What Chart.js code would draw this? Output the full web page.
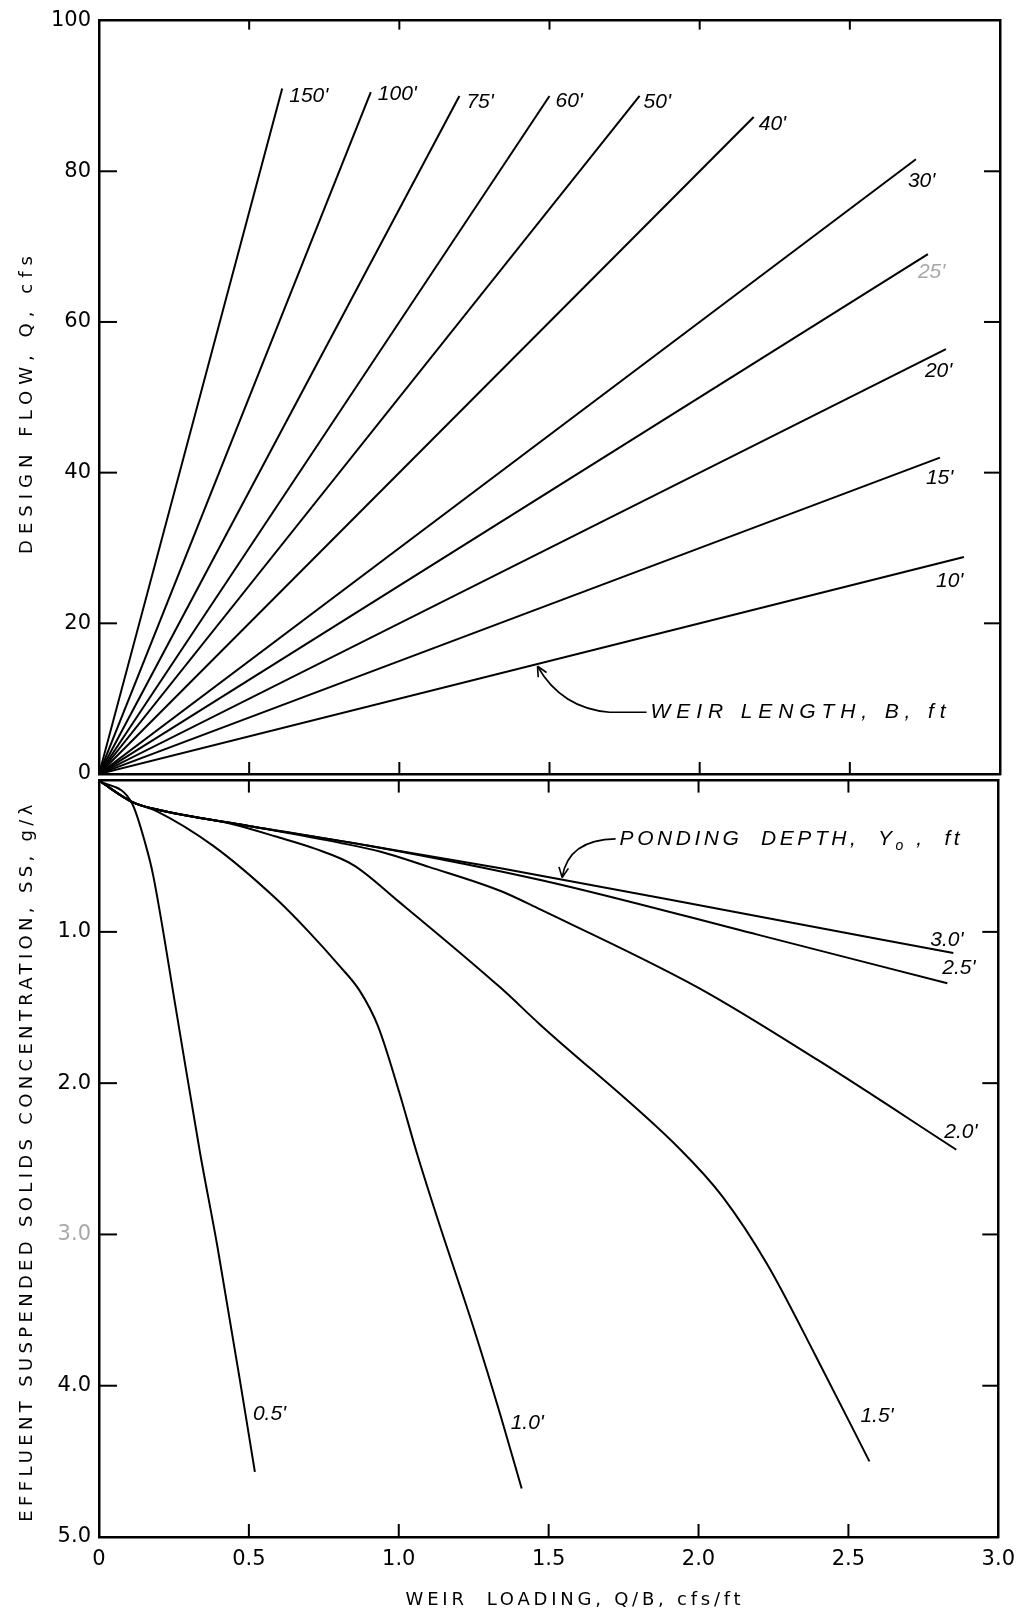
<!DOCTYPE html>
<html>
<head>
<meta charset="utf-8">
<title>Weir loading vs design flow and effluent suspended solids</title>
<script src="https://cdn.jsdelivr.net/npm/chart.js@4.4.1/dist/chart.umd.min.js"></script>
<style>
  html, body { margin:0; padding:0; background:#fff; }
  #wrap { position:relative; width:1025px; height:1619px; overflow:hidden; background:#fff; }
  canvas { position:absolute; left:0; }
  #cTop { top:0; }
  #cBot { top:760px; }
</style>
</head>
<body>
<div id="wrap">
  <canvas id="cTop" width="1025" height="800"></canvas>
  <canvas id="cBot" width="1025" height="859"></canvas>
</div>
<script>
// ================= DATA =================
const xTickValues    = [0, 0.5, 1.0, 1.5, 2.0, 2.5, 3.0];   // weir loading Q/B, cfs/ft
const flowTickValues = [0, 20, 40, 60, 80, 100];             // design flow Q, cfs
const ssTickValues   = [0, 1, 2, 3, 4, 5];                   // effluent SS, g/l

// Upper panel: weir length lines (start at origin, end)
const weirLengthLabels = ["150'", "100'", "75'", "60'", "50'", "40'", "30'", "25'", "20'", "15'", "10'"];
const weirStartLoading = [0, 0, 0, 0, 0, 0, 0, 0, 0, 0, 0];
const weirStartFlow    = [0, 0, 0, 0, 0, 0, 0, 0, 0, 0, 0];
const weirEndLoading   = [0.61, 0.905, 1.20, 1.50, 1.80, 2.18, 2.72, 2.76, 2.82, 2.80, 2.88];
const weirEndFlow      = [91.0, 90.5, 90.0, 90.0, 90.0, 87.2, 81.6, 69.0, 56.4, 42.0, 28.8];

// Lower panel: ponding depth curves
const depthLabels = ["0.5'", "1.0'", "1.5'", "2.0'", "2.5'", "3.0'"];
const loading05 = [0, 0.11, 0.155, 0.18, 0.26, 0.337, 0.395, 0.483, 0.52];
const ss05      = [0, 0.15, 0.42, 0.62, 1.55, 2.46, 3.08, 4.12, 4.57];
const loading10 = [0, 0.11, 0.19, 0.38, 0.59, 0.70, 0.80, 0.87, 0.93, 1.00, 1.06, 1.13, 1.25, 1.34, 1.41];
const ss10      = [0, 0.14, 0.20, 0.43, 0.78, 1.00, 1.22, 1.39, 1.62, 2.05, 2.46, 2.90, 3.62, 4.20, 4.68];
const loading15 = [0, 0.11, 0.19, 0.45, 0.59, 0.72, 0.85, 1.00, 1.34, 1.47, 1.94, 2.08, 2.23, 2.39, 2.57];
const ss15      = [0, 0.14, 0.19, 0.29, 0.37, 0.45, 0.56, 0.80, 1.37, 1.61, 2.44, 2.75, 3.20, 3.80, 4.50];
const loading20 = [0, 0.11, 0.19, 0.50, 0.80, 0.94, 1.10, 1.34, 1.47, 2.00, 2.40, 2.86];
const ss20      = [0, 0.14, 0.19, 0.30, 0.41, 0.47, 0.57, 0.73, 0.85, 1.37, 1.85, 2.44];
const loading25 = [0, 0.11, 0.19, 0.50, 0.90, 1.48, 2.20, 2.83];
const ss25      = [0, 0.14, 0.19, 0.30, 0.43, 0.66, 1.02, 1.34];
const loading30 = [0, 0.11, 0.19, 0.50, 0.90, 1.34, 2.10, 2.85];
const ss30      = [0, 0.14, 0.19, 0.30, 0.43, 0.58, 0.86, 1.14];
const depthLoadings = [loading05, loading10, loading15, loading20, loading25, loading30];
const depthSS       = [ss05, ss10, ss15, ss20, ss25, ss30];

// ================= STYLE / ANNOTATION LAYOUT =================
const INK = '#000';
const FAINT = '#a8a8a8';
const TICK_FONT = { family: '"DejaVu Sans", "Liberation Sans", sans-serif', size: 21 };
const LABEL_FONT = 'italic 21px "Liberation Sans", Arial, sans-serif';
const TITLE_FONT = '18px "DejaVu Sans", "Liberation Sans", sans-serif';
// pixel offsets of each curve label from the curve's end point (text left / middle)
const weirLabelOffset = [[7,8],[7,2],[7,6],[6,5],[4,6],[5,7],[-8,22],[-10,18],[-21,22],[-14,21],[-28,24]];
const depthLabelOffset = [[-2,-58],[-11,-65],[-9,-45],[-12,-18],[-5,-15],[-23,-13]];
// leader notes (data units)
const weirNote = { text: 'WEIR LENGTH, B, ft', at: [1.83, 8.2], bend: [1.70, 8.2], ctrl: [1.54, 8.7], tip: [1.46, 14.3], width: 295 };
const pondNote = { at: [1.73, 0.385], ctrl: [1.565, 0.39], tip: [1.545, 0.64], width: 340 };

function fmtX(v){ return v === 0 ? '0' : v.toFixed(1); }
function seg(ctx, x1, y1, x2, y2){ ctx.beginPath(); ctx.moveTo(x1, y1); ctx.lineTo(x2, y2); ctx.stroke(); }
function spaced(ctx, text, x, y, target){
  ctx.letterSpacing = '0px';
  const w = ctx.measureText(text).width;
  const n = [...text].length;
  const sp = target ? (target - w) / Math.max(n - 1, 1) : 0;
  ctx.letterSpacing = sp + 'px';
  ctx.fillText(text, x, y);
  ctx.letterSpacing = '0px';
}
function arrowHead(ctx, tip, from){
  const ang = Math.atan2(tip[1] - from[1], tip[0] - from[0]);
  const L = 11;
  seg(ctx, tip[0], tip[1], tip[0] - L*Math.cos(ang - 0.45), tip[1] - L*Math.sin(ang - 0.45));
  seg(ctx, tip[0], tip[1], tip[0] - L*Math.cos(ang + 0.45), tip[1] - L*Math.sin(ang + 0.45));
}
function innerTicks(ctx, a, xs, ys, yVals, topLen, botLen){
  ctx.strokeStyle = INK; ctx.lineWidth = 2;
  yVals.slice(1, -1).forEach(v => {
    const py = ys.getPixelForValue(v);
    seg(ctx, a.left, py, a.left + 18, py);
    seg(ctx, a.right - 16, py, a.right, py);
  });
  xTickValues.slice(1, -1).forEach(v => {
    const px = xs.getPixelForValue(v);
    seg(ctx, px, a.top, px, a.top + topLen);
    seg(ctx, px, a.bottom - botLen, px, a.bottom);
  });
}

// ================= TOP CHART =================
const topDecor = {
  id: 'topDecor',
  afterDraw(chart){
    const {ctx, chartArea: a, scales} = chart;
    const xs = scales.x, ys = scales.y;
    ctx.save();
    innerTicks(ctx, a, xs, ys, flowTickValues, 9, 12);
    // curve labels
    ctx.font = LABEL_FONT; ctx.textAlign = 'left'; ctx.textBaseline = 'middle';
    weirLengthLabels.forEach((lab, i) => {
      const px = xs.getPixelForValue(weirEndLoading[i]);
      const py = ys.getPixelForValue(weirEndFlow[i]);
      ctx.fillStyle = (lab === "25'") ? FAINT : INK;
      ctx.fillText(lab, px + weirLabelOffset[i][0], py + weirLabelOffset[i][1]);
    });
    // weir length leader
    const P = p => [xs.getPixelForValue(p[0]), ys.getPixelForValue(p[1])];
    const s = P(weirNote.at), b = P(weirNote.bend), c = P(weirNote.ctrl), t = P(weirNote.tip);
    ctx.strokeStyle = INK; ctx.lineWidth = 1.6;
    ctx.beginPath(); ctx.moveTo(s[0] - 2, s[1]); ctx.lineTo(b[0], b[1]);
    ctx.quadraticCurveTo(c[0], c[1], t[0], t[1]); ctx.stroke();
    arrowHead(ctx, t, c);
    ctx.fillStyle = INK;
    ctx.font = 'italic 21px "Liberation Sans", Arial, sans-serif';
    spaced(ctx, weirNote.text, s[0] + 2, s[1], weirNote.width);
    // y title
    ctx.font = TITLE_FONT; ctx.textAlign = 'center'; ctx.textBaseline = 'middle';
    ctx.translate(27, 402); ctx.rotate(-Math.PI/2);
    spaced(ctx, 'DESIGN FLOW, Q, cfs', 0, 0, 298);
    ctx.restore();
  }
};

new Chart(document.getElementById('cTop'), {
  type: 'scatter',
  data: {
    datasets: weirLengthLabels.map((lab, i) => ({
      label: 'B = ' + lab,
      data: [{x: weirStartLoading[i], y: weirStartFlow[i]}, {x: weirEndLoading[i], y: weirEndFlow[i]}],
      showLine: true, borderColor: INK, borderWidth: 2, pointRadius: 0, fill: false
    }))
  },
  options: {
    responsive: false, animation: false, devicePixelRatio: 1,
    layout: { padding: { left: 0, right: 25, top: 19, bottom: 26 } },
    plugins: { legend: { display: false }, tooltip: { enabled: false } },
    scales: {
      x: { type: 'linear', position: 'bottom', min: 0, max: 3,
           ticks: { display: false }, grid: { display: false, drawTicks: false },
           border: { display: true, color: INK, width: 2.5 }, afterFit(s){ s.height = 0; } },
      xTop: { type: 'linear', position: 'top', min: 0, max: 3,
           ticks: { display: false }, grid: { display: false, drawTicks: false },
           border: { display: true, color: INK, width: 2.5 }, afterFit(s){ s.height = 0; } },
      y: { type: 'linear', position: 'left', min: 0, max: 100,
           afterBuildTicks(s){ s.ticks = flowTickValues.map(v => ({ value: v })); },
           ticks: { color: INK, font: TICK_FONT, padding: 8 },
           grid: { display: false, drawTicks: false },
           border: { display: true, color: INK, width: 2.5 }, afterFit(s){ s.width = 99; } },
      yRight: { type: 'linear', position: 'right', min: 0, max: 100,
           ticks: { display: false }, grid: { display: false, drawTicks: false },
           border: { display: true, color: INK, width: 2.5 }, afterFit(s){ s.width = 0; } }
    }
  },
  plugins: [topDecor]
});

// ================= BOTTOM CHART =================
const botDecor = {
  id: 'botDecor',
  afterDraw(chart){
    const {ctx, chartArea: a, scales} = chart;
    const xs = scales.x, ys = scales.y;
    ctx.save();
    innerTicks(ctx, a, xs, ys, ssTickValues, 12, 13);
    // curve labels
    ctx.font = LABEL_FONT; ctx.textAlign = 'left'; ctx.textBaseline = 'middle'; ctx.fillStyle = INK;
    depthLabels.forEach((lab, i) => {
      const xsArr = depthLoadings[i], yArr = depthSS[i];
      const px = xs.getPixelForValue(xsArr[xsArr.length - 1]);
      const py = ys.getPixelForValue(yArr[yArr.length - 1]);
      ctx.fillText(lab, px + depthLabelOffset[i][0], py + depthLabelOffset[i][1]);
    });
    // ponding depth leader
    const P = p => [xs.getPixelForValue(p[0]), ys.getPixelForValue(p[1])];
    const s = P(pondNote.at), c = P(pondNote.ctrl), t = P(pondNote.tip);
    ctx.strokeStyle = INK; ctx.lineWidth = 1.6;
    ctx.beginPath(); ctx.moveTo(s[0] - 2, s[1]); ctx.quadraticCurveTo(c[0], c[1], t[0], t[1]); ctx.stroke();
    arrowHead(ctx, t, c);
    // ponding text with subscript
    const parts = [
      { t: 'PONDING  DEPTH,  Y', f: 'italic 21px "Liberation Sans", Arial, sans-serif', dy: 0 },
      { t: 'o', f: 'italic 14px "Liberation Sans", Arial, sans-serif', dy: 7 },
      { t: ' ,  ft', f: 'italic 21px "Liberation Sans", Arial, sans-serif', dy: 0 }
    ];
    let nat = 0, nChars = 0;
    parts.forEach(p => { ctx.font = p.f; ctx.letterSpacing = '0px'; p.w = ctx.measureText(p.t).width; nat += p.w; nChars += [...p.t].length; });
    const sp = (pondNote.width - nat) / (nChars - 1);
    let cx = s[0] + 2;
    parts.forEach(p => {
      ctx.font = p.f; ctx.letterSpacing = sp + 'px';
      ctx.fillText(p.t, cx, s[1] + p.dy);
      cx += p.w + sp * [...p.t].length;
    });
    ctx.letterSpacing = '0px';
    // x title
    ctx.font = TITLE_FONT; ctx.textAlign = 'center'; ctx.textBaseline = 'middle';
    spaced(ctx, 'WEIR  LOADING, Q/B, cfs/ft', 575, 840, 335);
    // y title
    ctx.translate(27, 1161 - 760); ctx.rotate(-Math.PI/2);
    spaced(ctx, 'EFFLUENT SUSPENDED SOLIDS CONCENTRATION, SS, g/λ', 0, 0, 717);
    ctx.restore();
  }
};

new Chart(document.getElementById('cBot'), {
  type: 'scatter',
  data: {
    datasets: depthLabels.map((lab, i) => ({
      label: 'Y0 = ' + lab,
      data: depthLoadings[i].map((xv, j) => ({ x: xv, y: depthSS[i][j] })),
      showLine: true, borderColor: INK, borderWidth: 2, pointRadius: 0, fill: false,
      cubicInterpolationMode: 'monotone'
    }))
  },
  options: {
    responsive: false, animation: false, devicePixelRatio: 1,
    layout: { padding: { left: 0, right: 25, top: 14, bottom: 46 } },
    plugins: { legend: { display: false }, tooltip: { enabled: false } },
    scales: {
      x: { type: 'linear', position: 'bottom', min: 0, max: 3,
           afterBuildTicks(s){ s.ticks = xTickValues.map(v => ({ value: v })); },
           ticks: { color: INK, font: TICK_FONT, padding: 10, maxRotation: 0, callback: v => fmtX(v) },
           grid: { display: false, drawTicks: false },
           border: { display: true, color: INK, width: 2.5 }, afterFit(s){ s.height = 36; } },
      xTop: { type: 'linear', position: 'top', min: 0, max: 3,
           ticks: { display: false }, grid: { display: false, drawTicks: false },
           border: { display: true, color: INK, width: 2.5 }, afterFit(s){ s.height = 0; } },
      y: { type: 'linear', position: 'left', min: 0, max: 5, reverse: true,
           afterBuildTicks(s){ s.ticks = ssTickValues.map(v => ({ value: v })); },
           ticks: { font: TICK_FONT, padding: 8,
                    color: c => (c.tick && c.tick.value === 3) ? FAINT : INK,
                    callback: v => v === 0 ? '' : v.toFixed(1) },
           grid: { display: false, drawTicks: false },
           border: { display: true, color: INK, width: 2.5 }, afterFit(s){ s.width = 99; } },
      yRight: { type: 'linear', position: 'right', min: 0, max: 5, reverse: true,
           ticks: { display: false }, grid: { display: false, drawTicks: false },
           border: { display: true, color: INK, width: 2.5 }, afterFit(s){ s.width = 0; } }
    }
  },
  plugins: [botDecor]
});
</script>
</body>
</html>
